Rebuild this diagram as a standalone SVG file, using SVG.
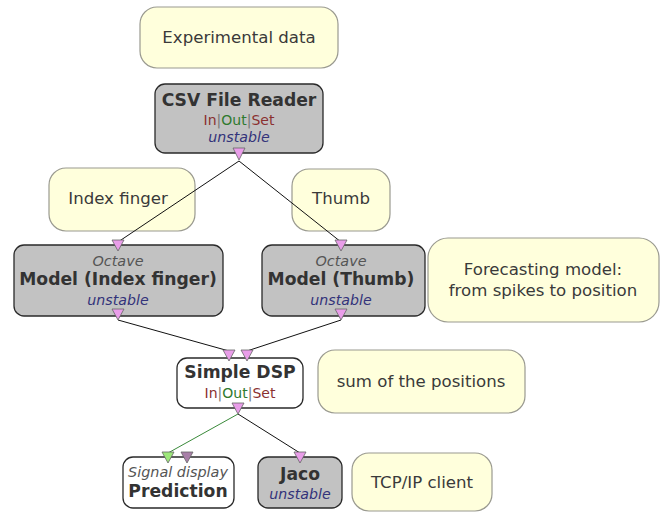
<svg xmlns="http://www.w3.org/2000/svg" width="665" height="512" viewBox="0 0 665 512">
<defs>
<style>
.cm{fill:#ffffdc;stroke:#9a9a90;stroke-width:1.2}
.cmt{font-family:"DejaVu Sans",sans-serif;font-size:16.6px;fill:#3a3a3a;text-anchor:middle}
.bx{fill:#c2c2c2;stroke:#2a2a2a;stroke-width:1.3}
.wb{fill:#ffffff;stroke:#2a2a2a;stroke-width:1.3}
.ttl{font-family:"DejaVu Sans",sans-serif;font-size:17.2px;font-weight:bold;fill:#333;text-anchor:middle}
.sub{font-family:"DejaVu Sans",sans-serif;font-size:14.4px;font-style:italic;fill:#555;text-anchor:middle}
.uns{font-family:"DejaVu Sans",sans-serif;font-size:14.2px;font-style:italic;fill:#33337a;text-anchor:middle}
.ios{font-family:"DejaVu Sans",sans-serif;font-size:14px;fill:#777;text-anchor:middle}
.i{fill:#8a3030}.o{fill:#2f7a2f}
.pin{fill:#e99de9;stroke:#666;stroke-width:0.8}
.ping{fill:#9de87a;stroke:#666;stroke-width:0.8}
.pinp{fill:#a880a8;stroke:#666;stroke-width:0.8}
.ln{stroke:#111;stroke-width:1;fill:none}
.lg{stroke:#3a8a3a;stroke-width:1;fill:none}
</style>
</defs>
<g id="experimental-data">
<rect class="cm" x="140" y="7" width="198" height="61" rx="17"/>
<text class="cmt" x="239" y="43">Experimental data</text>
</g>
<g id="index-finger-comment">
<rect class="cm" x="49" y="168" width="146" height="63" rx="17"/>
<text class="cmt" x="118" y="204">Index finger</text>
</g>
<g id="thumb-comment">
<rect class="cm" x="292" y="169" width="98" height="62" rx="17"/>
<text class="cmt" x="341" y="204">Thumb</text>
</g>
<g id="forecasting-comment">
<rect class="cm" x="428" y="238" width="231" height="84" rx="20"/>
<text class="cmt" x="543" y="275">Forecasting model:</text>
<text class="cmt" x="543" y="296">from spikes to position</text>
</g>
<g id="sum-comment">
<rect class="cm" x="318" y="350" width="207" height="63" rx="17"/>
<text class="cmt" x="421" y="387">sum of the positions</text>
</g>
<g id="tcp-comment">
<rect class="cm" x="352" y="453" width="140" height="58" rx="17"/>
<text class="cmt" x="422" y="488">TCP/IP client</text>
</g>
<g id="connectors">
<line class="ln" x1="239" y1="161" x2="118" y2="242"/>
<line class="ln" x1="239" y1="161" x2="341" y2="242"/>
<line class="ln" x1="118" y1="320" x2="229" y2="351"/>
<line class="ln" x1="341" y1="320" x2="247" y2="351"/>
<line class="lg" x1="238" y1="414" x2="168" y2="453"/>
<line class="ln" x1="238" y1="414" x2="300" y2="453"/>
</g>
<g id="csv-file-reader">
<rect class="bx" x="155" y="84" width="168" height="69" rx="10"/>
<text class="ttl" x="239" y="106">CSV File Reader</text>
<text class="ios" x="239" y="125"><tspan class="i">In</tspan>|<tspan class="o">Out</tspan>|<tspan class="i">Set</tspan></text>
<text class="uns" x="239" y="142">unstable</text>
<polygon class="pin" points="233,148 245,148 239,160"/>
</g>
<g id="model-index-finger">
<rect class="bx" x="14" y="245" width="209" height="71" rx="10"/>
<text class="sub" x="118" y="266">Octave</text>
<text class="ttl" x="118" y="285">Model (Index finger)</text>
<text class="uns" x="118" y="305">unstable</text>
<polygon class="pin" points="112,240 124,240 118,251"/>
<polygon class="pin" points="112,309 124,309 118,320"/>
</g>
<g id="model-thumb">
<rect class="bx" x="262" y="245" width="163" height="71" rx="10"/>
<text class="sub" x="341" y="266">Octave</text>
<text class="ttl" x="341" y="285">Model (Thumb)</text>
<text class="uns" x="341" y="305">unstable</text>
<polygon class="pin" points="335,240 347,240 341,251"/>
<polygon class="pin" points="335,309 347,309 341,320"/>
</g>
<g id="simple-dsp">
<rect class="wb" x="177" y="358" width="126" height="50" rx="10"/>
<text class="ttl" x="240" y="378">Simple DSP</text>
<text class="ios" x="240" y="398"><tspan class="i">In</tspan>|<tspan class="o">Out</tspan>|<tspan class="i">Set</tspan></text>
<polygon class="pin" points="223,350 235,350 229,361"/>
<polygon class="pin" points="241,350 253,350 247,361"/>
<polygon class="pin" points="232,403 244,403 238,414"/>
</g>
<g id="prediction">
<rect class="wb" x="123" y="457" width="111" height="51" rx="10"/>
<text class="sub" x="178" y="477">Signal display</text>
<text class="ttl" x="178" y="497">Prediction</text>
<polygon class="ping" points="162,452 174,452 168,463"/>
<polygon class="pinp" points="181,452 193,452 187,463"/>
</g>
<g id="jaco">
<rect class="bx" x="258" y="457" width="84" height="51" rx="10"/>
<text class="ttl" x="300" y="480">Jaco</text>
<text class="uns" x="300" y="499">unstable</text>
<polygon class="pin" points="294,452 306,452 300,463"/>
</g>
</svg>
